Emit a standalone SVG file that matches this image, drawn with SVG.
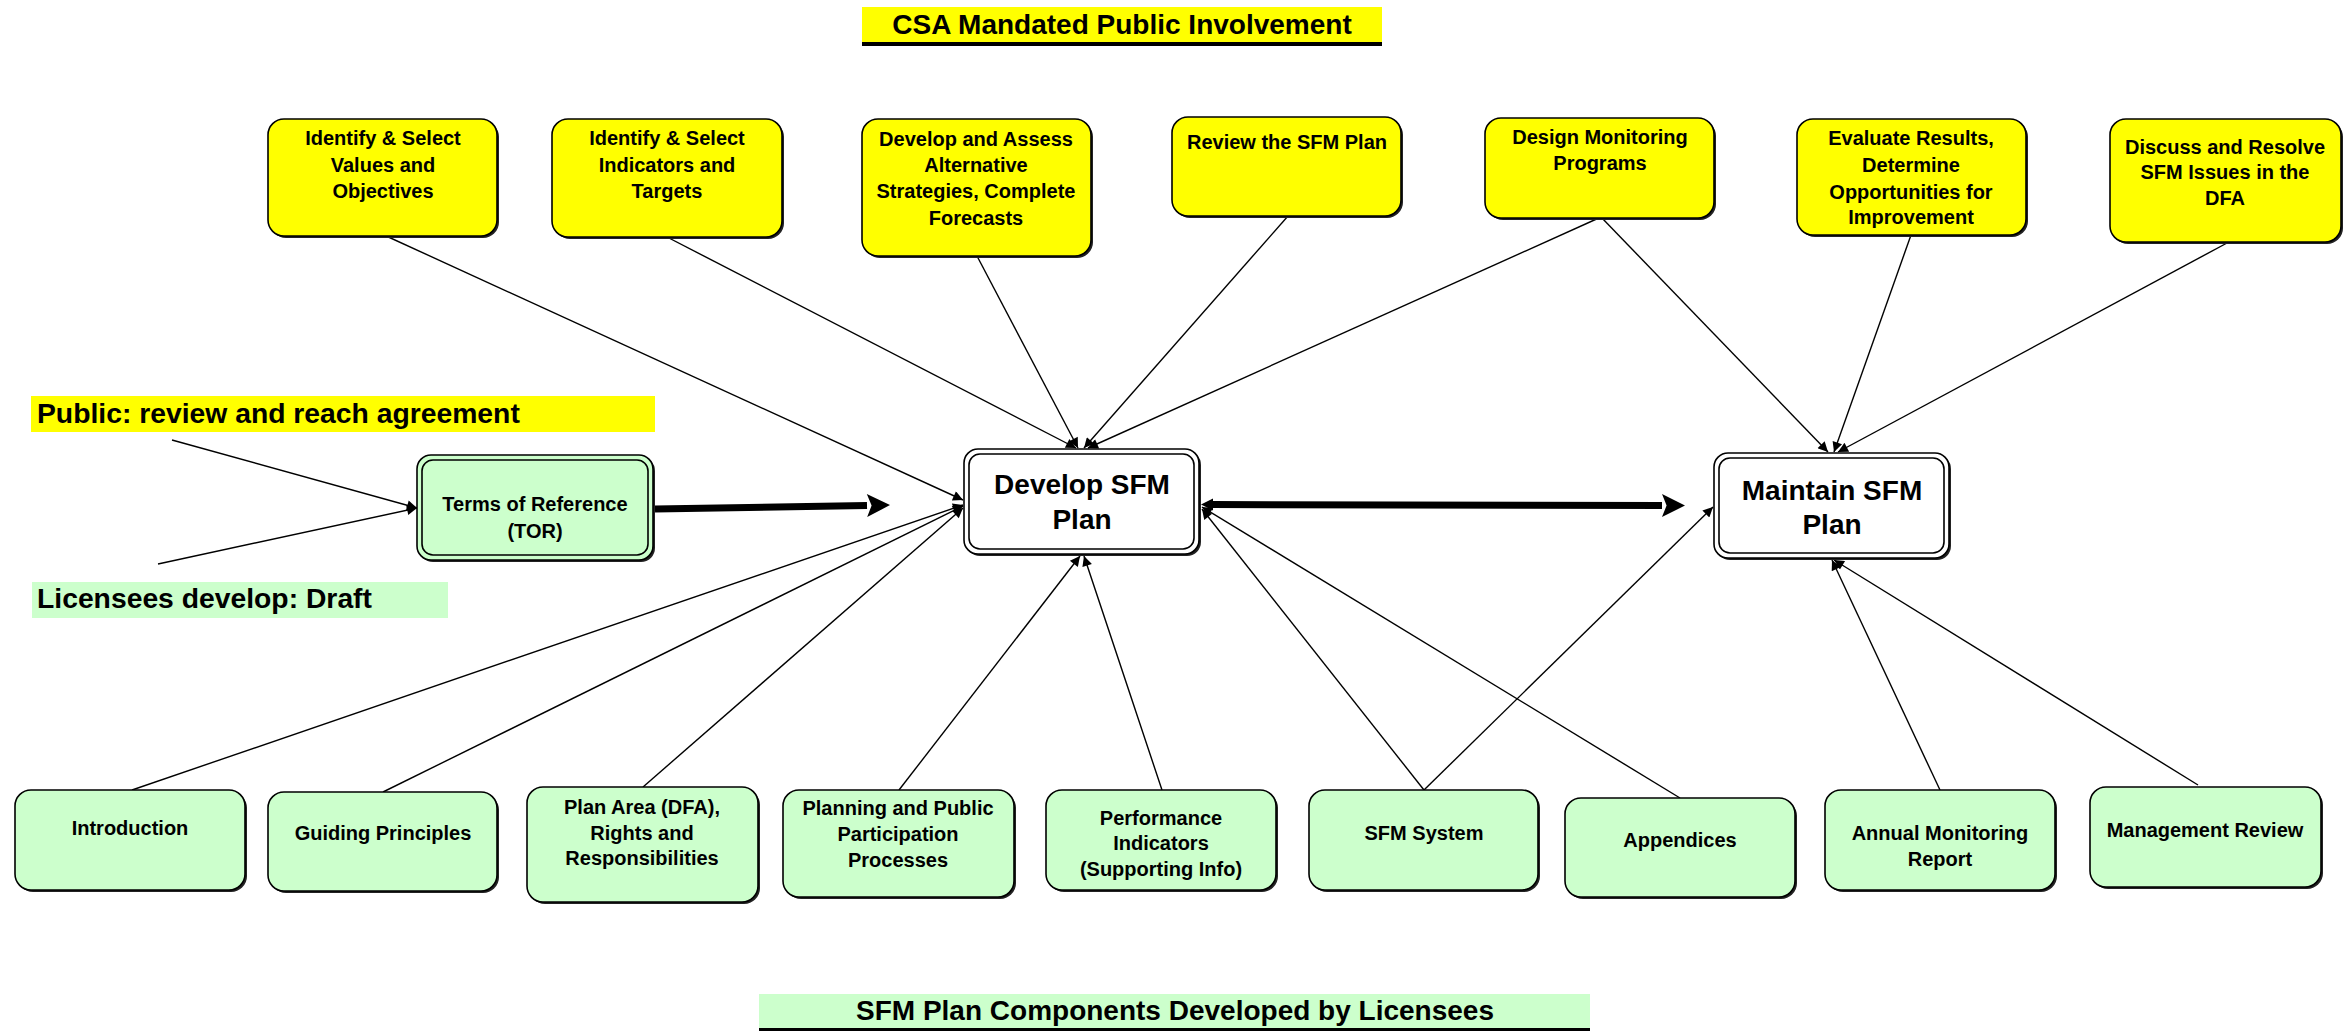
<svg xmlns="http://www.w3.org/2000/svg" width="2349" height="1031" viewBox="0 0 2349 1031">
<style>
text{font-family:"Liberation Sans",Arial,sans-serif;font-weight:bold;fill:#000;text-anchor:middle}
.t{font-size:20px}
.big{font-size:28px}
.lab{font-size:28.3px;text-anchor:start}
.y{fill:#ffff00;stroke:#000;stroke-width:1.6}
.g{fill:#ccffcc;stroke:#000;stroke-width:1.6}
.w{fill:#fff;stroke:#000;stroke-width:1.6}
.sh{fill:#222}
.c{stroke:#000;stroke-width:1.4;fill:none}
.k{stroke:#000;stroke-width:7;fill:none}
</style>
<defs>
<marker id="a" viewBox="0 0 10 10" refX="10" refY="5" markerWidth="14" markerHeight="10" markerUnits="userSpaceOnUse" orient="auto"><path d="M0,0 L10,5 L0,10 z"/></marker>
<marker id="ak" viewBox="0 0 10 10" refX="0" refY="5" markerWidth="24" markerHeight="23" markerUnits="userSpaceOnUse" orient="auto-start-reverse"><path d="M0,0 L10,5 L0,10 L2,5 z"/></marker>
<marker id="aks" viewBox="0 0 10 10" refX="0" refY="5" markerWidth="12" markerHeight="14" markerUnits="userSpaceOnUse" orient="auto-start-reverse"><path d="M0,0 L10,5 L0,10 z"/></marker>
</defs>

<!-- labels -->
<g id="title-top">
<rect x="862" y="7" width="520" height="35" fill="#ffff00"/>
<rect x="862" y="42" width="520" height="4" fill="#000"/>
<text class="big" x="1122" y="34">CSA Mandated Public Involvement</text>
</g>
<g id="title-bottom">
<rect x="759" y="994" width="831" height="35" fill="#ccffcc"/>
<rect x="759" y="1028" width="831" height="3" fill="#000"/>
<text class="big" x="1175" y="1020">SFM Plan Components Developed by Licensees</text>
</g>
<g id="label-public">
<rect x="31" y="396" width="624" height="36" fill="#ffff00"/>
<text class="lab" x="37" y="423">Public: review and reach agreement</text>
</g>
<g id="label-licensees">
<rect x="32" y="582" width="416" height="36" fill="#ccffcc"/>
<text class="lab" x="37" y="608">Licensees develop: Draft</text>
</g>

<!-- connectors -->
<g id="connectors">
<line class="c" x1="384" y1="235" x2="963" y2="500" marker-end="url(#a)"/>
<line class="c" x1="667" y1="237" x2="1076" y2="448" marker-end="url(#a)"/>
<line class="c" x1="977" y1="256" x2="1078" y2="448" marker-end="url(#a)"/>
<line class="c" x1="1288" y1="216" x2="1084" y2="448" marker-end="url(#a)"/>
<line class="c" x1="1601" y1="217" x2="1088" y2="448" marker-end="url(#a)"/>
<line class="c" x1="1601" y1="217" x2="1828" y2="452" marker-end="url(#a)"/>
<line class="c" x1="1911" y1="235" x2="1834" y2="452" marker-end="url(#a)"/>
<line class="c" x1="2227" y1="243" x2="1838" y2="452" marker-end="url(#a)"/>
<line class="c" x1="132" y1="790" x2="963" y2="505" marker-end="url(#a)"/>
<line class="c" x1="383" y1="792" x2="963" y2="506" marker-end="url(#a)"/>
<line class="c" x1="643" y1="787" x2="963" y2="508" marker-end="url(#a)"/>
<line class="c" x1="899" y1="790" x2="1080" y2="556" marker-end="url(#a)"/>
<line class="c" x1="1162" y1="790" x2="1084" y2="556" marker-end="url(#a)"/>
<line class="c" x1="1424" y1="790" x2="1202" y2="509" marker-end="url(#a)"/>
<line class="c" x1="1424" y1="790" x2="1713" y2="507" marker-end="url(#a)"/>
<line class="c" x1="1680" y1="798" x2="1202" y2="507" marker-end="url(#a)"/>
<line class="c" x1="1940" y1="790" x2="1832" y2="560" marker-end="url(#a)"/>
<line class="c" x1="2198" y1="785" x2="1834" y2="560" marker-end="url(#a)"/>
<line class="c" x1="172" y1="440" x2="417" y2="508" marker-end="url(#a)"/>
<line class="c" x1="158" y1="564" x2="417" y2="508" marker-end="url(#a)"/>
<line class="k" x1="655" y1="509" x2="867" y2="505.5" marker-end="url(#ak)"/>
<line class="k" x1="1213" y1="504.5" x2="1662" y2="505.5" marker-start="url(#aks)" marker-end="url(#ak)"/>
</g>

<!-- top nodes -->
<g id="n-values"><rect class="sh" x="270" y="121" width="229" height="117" rx="16"/><rect class="y" x="268" y="119" width="229" height="117" rx="16"/>
<text class="t" x="383" y="145">Identify &amp; Select</text><text class="t" x="383" y="172">Values and</text><text class="t" x="383" y="198">Objectives</text></g>
<g id="n-indicators"><rect class="sh" x="554" y="121" width="230" height="118" rx="16"/><rect class="y" x="552" y="119" width="230" height="118" rx="16"/>
<text class="t" x="667" y="145">Identify &amp; Select</text><text class="t" x="667" y="172">Indicators and</text><text class="t" x="667" y="198">Targets</text></g>
<g id="n-strategies"><rect class="sh" x="864" y="121" width="229" height="137" rx="16"/><rect class="y" x="862" y="119" width="229" height="137" rx="16"/>
<text class="t" x="976" y="146">Develop and Assess</text><text class="t" x="976" y="172">Alternative</text><text class="t" x="976" y="198">Strategies, Complete</text><text class="t" x="976" y="225">Forecasts</text></g>
<g id="n-review"><rect class="sh" x="1174" y="119" width="229" height="99" rx="16"/><rect class="y" x="1172" y="117" width="229" height="99" rx="16"/>
<text class="t" x="1287" y="149">Review the SFM Plan</text></g>
<g id="n-design"><rect class="sh" x="1487" y="120" width="229" height="100" rx="16"/><rect class="y" x="1485" y="118" width="229" height="100" rx="16"/>
<text class="t" x="1600" y="144">Design Monitoring</text><text class="t" x="1600" y="170">Programs</text></g>
<g id="n-evaluate"><rect class="sh" x="1799" y="121" width="229" height="116" rx="16"/><rect class="y" x="1797" y="119" width="229" height="116" rx="16"/>
<text class="t" x="1911" y="145">Evaluate Results,</text><text class="t" x="1911" y="172">Determine</text><text class="t" x="1911" y="199">Opportunities for</text><text class="t" x="1911" y="224">Improvement</text></g>
<g id="n-discuss"><rect class="sh" x="2112" y="121" width="231" height="123" rx="16"/><rect class="y" x="2110" y="119" width="231" height="123" rx="16"/>
<text class="t" x="2225" y="154">Discuss and Resolve</text><text class="t" x="2225" y="179">SFM Issues in the</text><text class="t" x="2225" y="205">DFA</text></g>

<!-- middle nodes -->
<g id="n-tor"><rect class="sh" x="419" y="457" width="236" height="105" rx="14"/><rect class="g" x="417" y="455" width="236" height="105" rx="14"/><rect class="g" x="422" y="460" width="226" height="95" rx="11"/>
<text class="t" x="535" y="511">Terms of Reference</text><text class="t" x="535" y="538">(TOR)</text></g>
<g id="n-develop"><rect class="sh" x="966" y="451" width="235" height="105" rx="14"/><rect class="w" x="964" y="449" width="235" height="105" rx="14"/><rect class="w" x="969" y="454" width="225" height="95" rx="11"/>
<text class="big" x="1082" y="494">Develop SFM</text><text class="big" x="1082" y="529">Plan</text></g>
<g id="n-maintain"><rect class="sh" x="1716" y="455" width="235" height="105" rx="14"/><rect class="w" x="1714" y="453" width="235" height="105" rx="14"/><rect class="w" x="1719" y="458" width="225" height="95" rx="11"/>
<text class="big" x="1832" y="500">Maintain SFM</text><text class="big" x="1832" y="534">Plan</text></g>

<!-- bottom nodes -->
<g id="n-intro"><rect class="sh" x="17" y="792" width="230" height="100" rx="16"/><rect class="g" x="15" y="790" width="230" height="100" rx="16"/>
<text class="t" x="130" y="835">Introduction</text></g>
<g id="n-guiding"><rect class="sh" x="270" y="794" width="229" height="99" rx="16"/><rect class="g" x="268" y="792" width="229" height="99" rx="16"/>
<text class="t" x="383" y="840">Guiding Principles</text></g>
<g id="n-planarea"><rect class="sh" x="529" y="789" width="231" height="115" rx="16"/><rect class="g" x="527" y="787" width="231" height="115" rx="16"/>
<text class="t" x="642" y="814">Plan Area (DFA),</text><text class="t" x="642" y="840">Rights and</text><text class="t" x="642" y="865">Responsibilities</text></g>
<g id="n-planning"><rect class="sh" x="785" y="792" width="231" height="107" rx="16"/><rect class="g" x="783" y="790" width="231" height="107" rx="16"/>
<text class="t" x="898" y="815">Planning and Public</text><text class="t" x="898" y="841">Participation</text><text class="t" x="898" y="867">Processes</text></g>
<g id="n-performance"><rect class="sh" x="1048" y="792" width="230" height="100" rx="16"/><rect class="g" x="1046" y="790" width="230" height="100" rx="16"/>
<text class="t" x="1161" y="825">Performance</text><text class="t" x="1161" y="850">Indicators</text><text class="t" x="1161" y="876">(Supporting Info)</text></g>
<g id="n-sfmsystem"><rect class="sh" x="1311" y="792" width="229" height="100" rx="16"/><rect class="g" x="1309" y="790" width="229" height="100" rx="16"/>
<text class="t" x="1424" y="840">SFM System</text></g>
<g id="n-appendices"><rect class="sh" x="1567" y="800" width="230" height="99" rx="16"/><rect class="g" x="1565" y="798" width="230" height="99" rx="16"/>
<text class="t" x="1680" y="847">Appendices</text></g>
<g id="n-annual"><rect class="sh" x="1827" y="792" width="230" height="100" rx="16"/><rect class="g" x="1825" y="790" width="230" height="100" rx="16"/>
<text class="t" x="1940" y="840">Annual Monitoring</text><text class="t" x="1940" y="866">Report</text></g>
<g id="n-mgmt"><rect class="sh" x="2092" y="789" width="231" height="100" rx="16"/><rect class="g" x="2090" y="787" width="231" height="100" rx="16"/>
<text class="t" x="2205" y="837">Management Review</text></g>
</svg>
